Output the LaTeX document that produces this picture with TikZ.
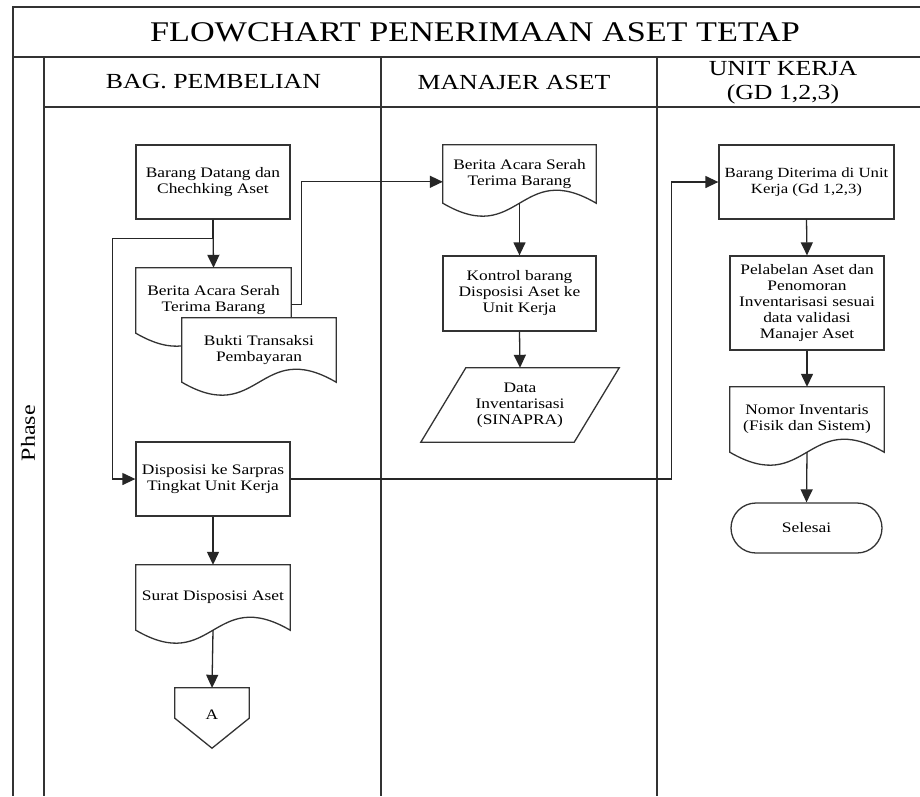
\documentclass[tikz,border=0pt]{standalone}
\usepackage{fontspec}
\setmainfont{Liberation Serif}[FakeStretch=1.2]
\usetikzlibrary{arrows.meta,calc,shapes.misc,backgrounds}
\begin{document}
\begin{tikzpicture}[x=1pt,y=-1pt,
  frame/.style={draw=black!80,line width=1.5pt},
  box/.style={draw=black!80,line width=1.3pt,fill=white,align=center,inner sep=1pt,font=\fontsize{14.5}{16}\selectfont},
  txt/.style={align=center,inner sep=0pt,font=\fontsize{14.5}{16}\selectfont},
  shp/.style={draw=black!80,line width=1.3pt,fill=white},
  arr/.style={draw=black!85,line width=1.3pt,-{Triangle[length=13pt,width=12pt]}},
  hdr/.style={align=center,inner sep=0pt,font=\fontsize{21.5}{24}\selectfont}]
\useasboundingbox (0,0) rectangle (920,796);
% frame
\draw[frame] (920,7) -- (13,7) -- (13,796);
\draw[frame] (13,57) -- (920,57);
\draw[frame] (44,57) -- (44,796);
\draw[frame] (44,107) -- (920,107);
\draw[frame] (381,57) -- (381,796);
\draw[frame] (657,57) -- (657,796);
% titles
\node[inner sep=0pt,font=\fontsize{28.5}{30}\selectfont] (title) at (475,32) {FLOWCHART PENERIMAAN ASET TETAP};
\node[hdr] (h1) at (213.5,82) {BAG. PEMBELIAN};
\node[hdr] (h2) at (514,82) {MANAJER ASET};
\node[hdr] (h3) at (783,83) {UNIT KERJA\\(GD 1,2,3)};
\node[rotate=90,inner sep=0pt,font=\fontsize{20}{22}\selectfont] (ph) at (28,433) {Phase};
% lane 1
\node[box,minimum width=154,minimum height=74] (bd) at (213,182) {Barang Datang dan\\Chechking Aset};
\node[txt,minimum width=155,minimum height=65] (ba1) at (213.5,300.5) {Berita Acara Serah\\Terima Barang};
\node[txt,minimum width=154,minimum height=64] (bk) at (259,350) {Bukti Transaksi\\Pembayaran};
\node[box,minimum width=154,minimum height=74] (disp) at (213,479) {Disposisi ke Sarpras\\Tingkat Unit Kerja};
\node[txt,minimum width=154,minimum height=65] (surat) at (213,597.5) {Surat Disposisi Aset};
\node[txt,minimum width=74,minimum height=60] (A) at (212,718) {\raisebox{7pt}{A}};
% lane 2
\node[txt,minimum width=153,minimum height=58] (ba2) at (519.5,174) {Berita Acara Serah\\Terima Barang};
\node[box,minimum width=153,minimum height=75] (kon) at (519.5,293.5) {Kontrol barang\\Disposisi Aset ke\\Unit Kerja};
\node[txt,minimum width=153,minimum height=74] (data) at (520,405) {Data\\Inventarisasi\\(SINAPRA)};
% lane 3
\node[box,minimum width=175,minimum height=74,font=\fontsize{14}{16}\selectfont] (bdt) at (806.5,182) {Barang Diterima di Unit\\Kerja (Gd 1,2,3)};
\node[box,minimum width=154,minimum height=94] (pel) at (807,303) {Pelabelan Aset dan\\Penomoran\\Inventarisasi sesuai\\data validasi\\Manajer Aset};
\node[txt,minimum width=154,minimum height=65] (nom) at (807,419.5) {Nomor Inventaris\\(Fisik dan Sistem)};
\node[box,rounded rectangle,minimum width=153,minimum height=50] (sel) at (806.5,528) {Selesai};
% outlines of document shapes etc.
\begin{scope}[on background layer]
\fill[white] (0,0) rectangle (920,796);
\foreach \n in {ba1,bk,surat,ba2,nom}{
  \draw[shp] (\n.north west) -- (\n.north east) -- (\n.south east)
    .. controls ($(\n.south)+(0,-45)$) and ($(\n.south)+(0,45)$) .. (\n.south west) -- cycle;
}
\draw[shp] ($(data.north west)+(22.5,0)$) -- ($(data.north east)+(22.5,0)$)
  -- ($(data.south east)+(-22.5,0)$) -- ($(data.south west)+(-22.5,0)$) -- cycle;
\draw[shp] (A.north west) -- (A.north east) -- ($(A.south east)+(0,-30)$)
  -- (A.south) -- ($(A.south west)+(0,-30)$) -- cycle;
\end{scope}
% connectors
\draw[arr] (bd.south) -- (ba1.north);
\draw[arr] (bd.south) -- ++(0,19) -| ($(disp.west)+(-23,0)$) -- (disp.west);
\draw[arr] ($(ba1.north east)+(0,37)$) -- ++(10,0) |- ($(ba2.north west)+(0,37)$);
\draw[arr] (disp.east) -| ($(bdt.west)+(-47,0)$) -- (bdt.west);
\draw[arr] (disp.south) -- (surat.north);
\draw[arr] (surat.south) -- (A.north);
\draw[arr] (ba2.south) -- (kon.north);
\draw[arr] (kon.south) -- (data.north);
\draw[arr] (bdt.south) -- (pel.north);
\draw[arr] (pel.south) -- (nom.north);
\draw[arr] (nom.south) -- (sel.north);
\end{tikzpicture}
\end{document}
